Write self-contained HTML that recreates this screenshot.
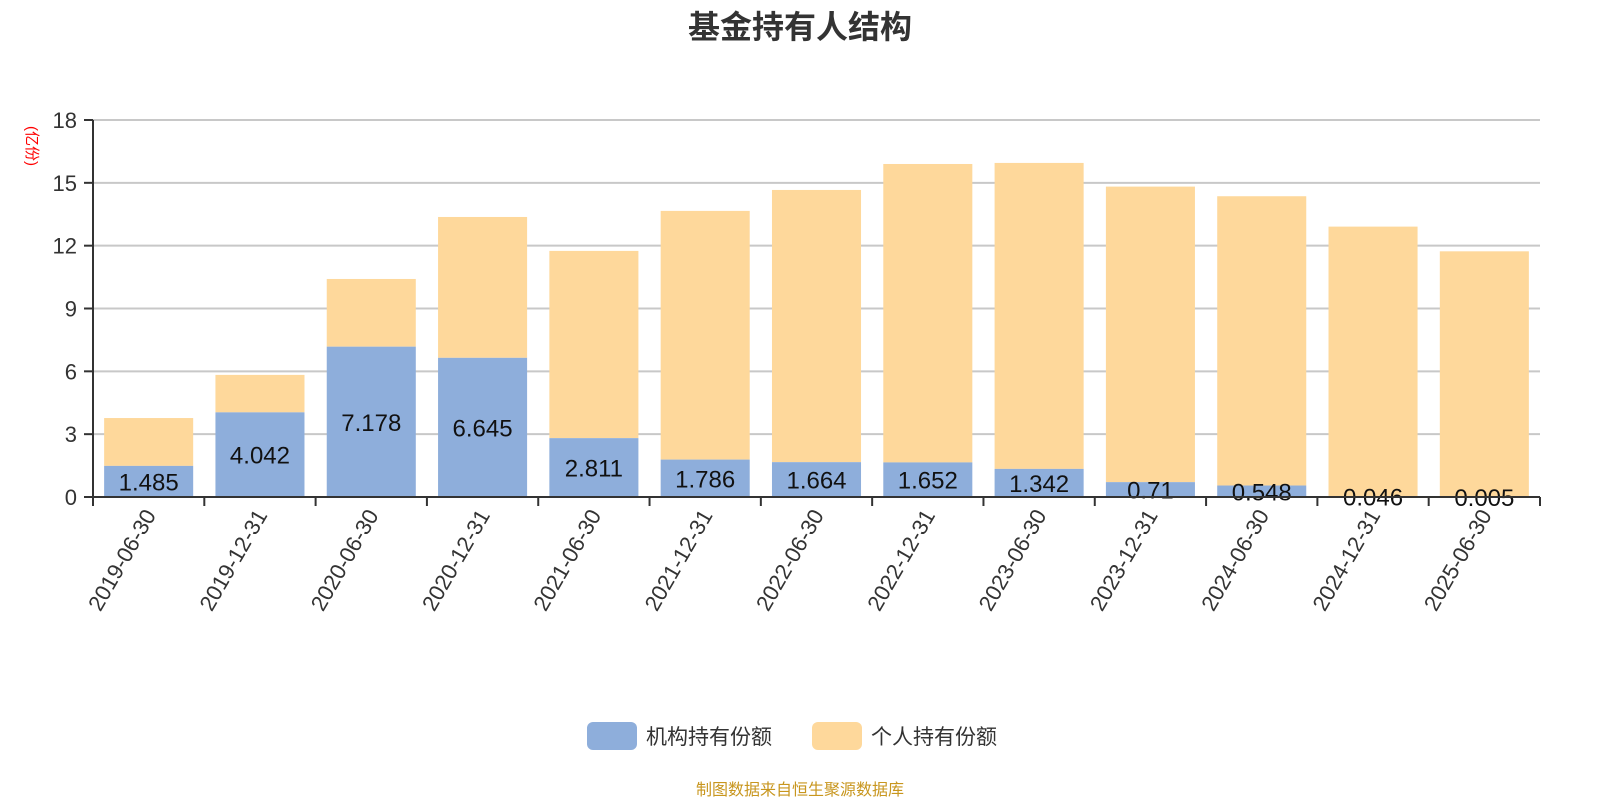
<!DOCTYPE html>
<html><head><meta charset="utf-8">
<style>
html,body{margin:0;padding:0;background:#fff;}
body{width:1600px;height:800px;overflow:hidden;font-family:"Liberation Sans","Noto Sans CJK SC",sans-serif;}
</style></head>
<body>
<svg id="chart" width="1600" height="800" xmlns="http://www.w3.org/2000/svg" font-family="Liberation Sans, Noto Sans CJK SC, sans-serif">
<text x="800" y="38" text-anchor="middle" font-size="32" font-weight="bold" fill="#333">基金持有人结构</text>
<text transform="translate(27,146) rotate(90)" text-anchor="middle" font-size="15" fill="#ff0000">(亿份)</text>
<g id="grid"></g><g id="bars"></g><g id="axes"></g>
<g>
<g><rect x="587" y="722" width="50" height="28" rx="6" fill="#8eaedb"/><text x="646" y="744" font-size="21" fill="#333">机构持有份额</text></g>
<g><rect x="812" y="722" width="50" height="28" rx="6" fill="#fed89b"/><text x="871" y="744" font-size="21" fill="#333">个人持有份额</text></g>
</g>
<text x="800" y="795" text-anchor="middle" font-size="16" fill="#c8961e">制图数据来自恒生聚源数据库</text>
</svg>
<script>
const categories=["2019-06-30","2019-12-31","2020-06-30","2020-12-31","2021-06-30","2021-12-31","2022-06-30","2022-12-31","2023-06-30","2023-12-31","2024-06-30","2024-12-31","2025-06-30"];
const institution=[1.485,4.042,7.178,6.645,2.811,1.786,1.664,1.652,1.342,0.71,0.548,0.046,0.005];
const individual=[2.285,1.788,3.232,6.725,8.939,11.874,12.996,14.248,14.608,14.11,13.812,12.864,11.725];
const yTicks=[0,3,6,9,12,15,18];
const NS="http://www.w3.org/2000/svg";
const L=93,R=1540,T=120,B=497,YMAX=18;
const y=v=>B-(v/YMAX)*(B-T);
const bw=(R-L)/categories.length;
const x=i=>L+bw*i;
function mk(tag,attrs,parent){const e=document.createElementNS(NS,tag);for(const k in attrs)e.setAttribute(k,attrs[k]);parent.appendChild(e);return e;}
const grid=document.getElementById('grid'),bars=document.getElementById('bars'),axes=document.getElementById('axes');
yTicks.forEach(t=>{
 if(t>0){const g=mk('line',{x1:L,x2:R,y1:y(t),y2:y(t),stroke:'#c8c8c8','stroke-width':2},grid);
 
 }
 const tk=mk('line',{x1:L-9,x2:L,y1:y(t),y2:y(t),stroke:'#333','stroke-width':2},axes);
 
 
 const lb=mk('text',{x:L-16,y:y(t)+8,'text-anchor':'end','font-size':22,fill:'#333'},axes);
 
 
 lb.textContent=t;
});
categories.forEach((c,i)=>{
 const bx=x(i)+bw*0.1,w=bw*0.8;
 const tot=institution[i]+individual[i];
 const r2=mk('rect',{x:bx,y:y(tot),width:w,height:y(institution[i])-y(tot),fill:'#fed89b'},bars);
 
 
 const r1=mk('rect',{x:bx,y:y(institution[i]),width:w,height:B-y(institution[i]),fill:'#8eaedb'},bars);
 
 
 const lv=mk('text',{x:bx+w/2,y:(y(institution[i])+B)/2+9,'text-anchor':'middle','font-size':24,fill:'#111'},bars);
 
 
 lv.textContent=institution[i];
 const cx=x(i)+bw/2;
 const xl=mk('text',{transform:`translate(${cx+8},${B+18}) rotate(-60)`,'text-anchor':'end','font-size':22,fill:'#333'},axes);
 
 
 xl.textContent=c;
});
for(let i=0;i<=categories.length;i++){
 const t=mk('line',{x1:x(i),x2:x(i),y1:B,y2:B+9,stroke:'#333','stroke-width':2},axes);
 
 
}
const ya=mk('line',{x1:L,x2:L,y1:T,y2:B,stroke:'#333','stroke-width':2},axes);


const xa=mk('line',{x1:L,x2:R,y1:B,y2:B,stroke:'#333','stroke-width':2},axes);


</script>
</body></html>
